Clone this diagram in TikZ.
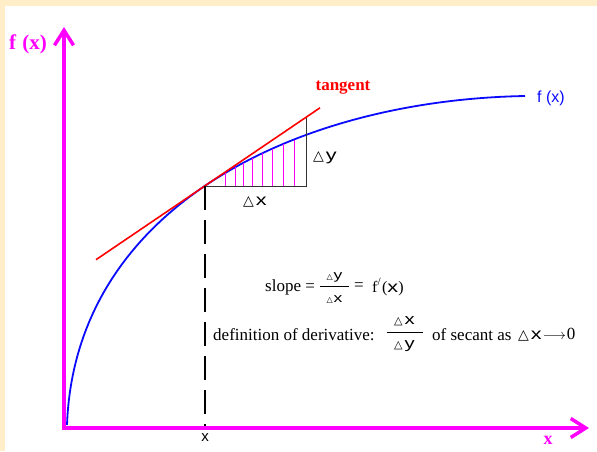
\documentclass[tikz,border=0pt]{standalone}
\usepackage{fontspec}
\usepackage{graphicx}
\setmainfont{Liberation Serif}
\setsansfont{Liberation Sans}
\newfontfamily\symf{DejaVu Sans}
\usetikzlibrary{arrows.meta,intersections}
\definecolor{mag}{RGB}{255,0,255}
\definecolor{cream}{RGB}{255,238,200}
\definecolor{cblue}{RGB}{10,10,255}
\newcommand\fs[1]{\fontsize{#1}{#1}\selectfont}
\newcommand\tri[1]{{\symf\fontsize{#1}{#1}\selectfont △}}
\newcommand\wide[1]{\scalebox{1.35}[1]{#1}}
\newcommand\myfrac[3]{$\displaystyle\frac{\hbox to #1{\hss#2\hss}}{\hbox to #1{\hss#3\hss}}$}
\begin{document}
\begin{tikzpicture}[x=1pt,y=-1pt,
  axisline/.style={mag,line width=3.5pt,
    {Straight Barb[length=15pt,width=19pt]}-{Straight Barb[length=15pt,width=19pt]}},
  curveline/.style={cblue,line width=1.8pt},
  tanline/.style={red,line width=1.6pt},
  hatchline/.style={mag,line width=0.8pt},
  triline/.style={black!80,line width=1pt},
  dashline/.style={black,line width=2pt,dash pattern=on 24pt off 10pt},
  maglabel/.style={mag,font=\bfseries\fs{21},inner sep=0pt},
  txt/.style={black,font=\fs{17},inner sep=0pt},
  sanslabel/.style={font=\sffamily\fs{16},inner sep=0pt}]
\fill[cream] (0,0) rectangle (597,451);
\fill[white] (5,6) rectangle (597,451);
\useasboundingbox (0,0) rectangle (597,451);
% axes
\coordinate (O) at (64,428);
\coordinate (Xe) at (589,428);
\coordinate (Ye) at (64,27);
% curve
\coordinate (C0) at (67,425);
\coordinate (C1) at (75,205);
\coordinate (C2) at (300,100);
\coordinate (C3) at (525,96);
% tangent
\coordinate (T) at (204.5,186.1);
\coordinate (TA) at (96,259.7);
\coordinate (TB) at (320,107.8);
\coordinate (R) at (306,186.1);
\coordinate (RT) at (306,117.3);
\draw[curveline, name path=curve] (C0) .. controls (C1) and (C2) .. (C3);
\foreach \hx in {225,235,243,252,262,272,283,294} {
  \path[name path=vline] (\hx,195) -- (\hx,100);
  \draw[hatchline, name intersections={of=curve and vline, by=hp}] (hp |- T) -- (hp);
}
\draw[triline] (T) -- (R) -- (RT);
\draw[tanline] (TA) -- (TB);
\draw[dashline] (T) -- (T |- O);
\draw[axisline] (Xe) -- (O) -- (Ye);
% labels
\node[maglabel] (fy) at (28,44) {f\hspace{0.3em}(x)};
\node[maglabel,font=\bfseries\fs{18}] (xa) at (548,440) {x};
\node[red,font=\bfseries\fs{17},inner sep=0pt] (tl) at (343,88) {tangent};
\node[cblue,font=\sffamily\fs{16},inner sep=0pt] (fl) at (551,98) {f (x)};
\node[sanslabel] (dy) at (325,158) {\tri{14}\hspace{2pt}\wide{y}};
\node[sanslabel] (dx) at (255,202) {\tri{14}\hspace{2pt}\wide{x}};
\node[sanslabel,font=\sffamily\fs{15}] (xl) at (205,438) {x};
% slope line
\node[txt,anchor=west] (sl1) at (265,287) {slope =};
\node[txt] (sl2) at (334.5,288) {\myfrac{29pt}{\sffamily\fs{13}\tri{8}\hspace{1pt}\wide{y}}{\sffamily\fs{13}\tri{8}\hspace{1pt}\wide{x}}};
\node[txt,anchor=west] (sl3) at (354,287) {=};
\node[txt,anchor=west,font=\fs{16}] (sl4) at (372,287) {f\textsuperscript{/}\hspace{1pt}({\sffamily\wide{x}})};
% definition line
\node[txt,anchor=west] (df1) at (213,335) {definition of derivative:};
\node[txt] (df2) at (404.5,334) {\myfrac{36pt}{\sffamily\fs{15}\tri{11}\hspace{2pt}\wide{x}}{\sffamily\fs{15}\tri{11}\hspace{2pt}\wide{y}}};
\node[txt,anchor=west] (df3) at (432,335) {of secant as};
\node[txt,anchor=west] (df4) at (518,335) {\tri{14}\hspace{2pt}{\sffamily\fs{16}\wide{x}}\hspace{1pt}{\fs{15}$\longrightarrow$}\hspace{1pt}0};
\end{tikzpicture}
\end{document}
